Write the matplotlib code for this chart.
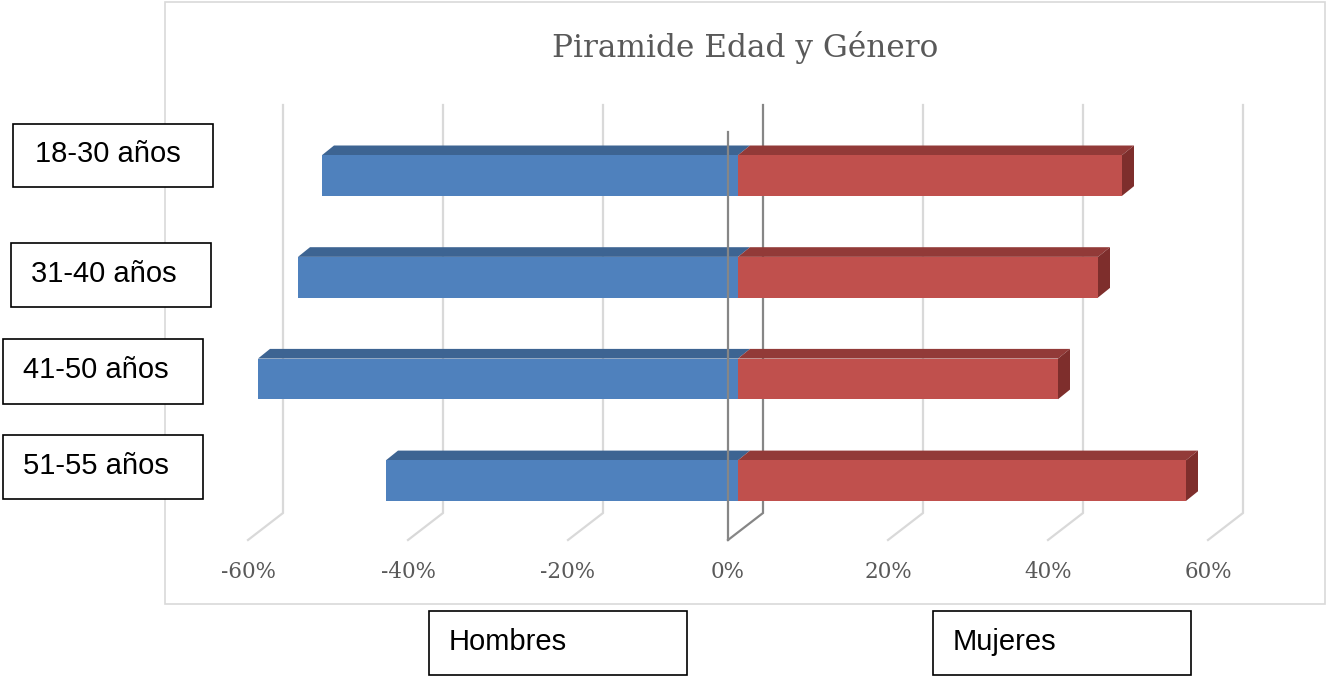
import matplotlib
matplotlib.use("Agg")
import matplotlib.pyplot as plt
from matplotlib.patches import Polygon, Rectangle

# Datos (porcentaje por grupo de edad)
grupos = ["18-30 años", "31-40 años", "41-50 años", "51-55 años"]
hombres = [52, 55, 60, 44]
mujeres = [48, 45, 40, 56]
ticks = [-60, -40, -20, 0, 20, 40, 60]
series = ["Hombres", "Mujeres"]
titulo = "Piramide Edad y Género"

W, H = 1326, 677
fig = plt.figure(figsize=(W / 100, H / 100), dpi=100)

# eje principal: x en %, y en filas (categorías)
X0_PX, PX_PER_PCT = 728, 8.0
Y0_PX, PX_PER_ROW = 175.5, 101.7
xlim = (-70, 70)
ylim = (4.2, -1.5)
ax_left = (X0_PX + xlim[0] * PX_PER_PCT) / W
ax_w = (xlim[1] - xlim[0]) * PX_PER_PCT / W
ax_top = Y0_PX + ylim[1] * PX_PER_ROW
ax_bot = Y0_PX + ylim[0] * PX_PER_ROW
ax = fig.add_axes([ax_left, 1 - ax_bot / H, ax_w, (ax_bot - ax_top) / H])
ax.set_xlim(*xlim)
ax.set_ylim(*ylim)
ax.axis("off")

# geometría 3D aproximada
DX, DY = 35 / PX_PER_PCT, -27 / PX_PER_ROW       # profundidad de la rejilla
front_bot = (540 - Y0_PX) / PX_PER_ROW
back_bot = front_bot + DY
back_top = (105 - Y0_PX) / PX_PER_ROW
front_top = back_top - DY
BX = 10 / PX_PER_PCT                              # cero de las barras
bdx, bdy = 1.5, -0.095                            # profundidad de las barras
hh = 0.2                                          # media altura de barra

grid_c = "#D9D9D9"
axis_c = "#868686"

for t in ticks:
    c = axis_c if t == 0 else grid_c
    ax.plot([t + DX, t + DX, t], [back_top, back_bot, front_bot], color=c, lw=1.6, zorder=1,
            solid_joinstyle="miter")
    ax.text(t, 3.90, f"{t}%", ha="center", va="center", fontsize=15.5,
            family="DejaVu Serif", color="#595959")

blue_f, blue_t = "#4F81BD", "#3D6492"
red_f, red_t, red_s = "#C0504D", "#923A38", "#7E2E2C"

for i, (h, m) in enumerate(zip(hombres, mujeres)):
    y0, y1 = i - hh, i + hh
    # hombres (izquierda)
    ax.add_patch(Polygon([(BX - h, y0), (BX - h + bdx, y0 + bdy), (BX + bdx, y0 + bdy), (BX, y0)],
                         closed=True, facecolor=blue_t, edgecolor="none", zorder=2))
    ax.add_patch(Rectangle((BX - h, y0), h, y1 - y0, facecolor=blue_f, edgecolor="none", zorder=3))
    # mujeres (derecha)
    ax.add_patch(Polygon([(BX, y0), (BX + bdx, y0 + bdy), (BX + m + bdx, y0 + bdy), (BX + m, y0)],
                         closed=True, facecolor=red_t, edgecolor="none", zorder=2))
    ax.add_patch(Polygon([(BX + m, y0), (BX + m + bdx, y0 + bdy), (BX + m + bdx, y1 + bdy), (BX + m, y1)],
                         closed=True, facecolor=red_s, edgecolor="none", zorder=2))
    ax.add_patch(Rectangle((BX, y0), m, y1 - y0, facecolor=red_f, edgecolor="none", zorder=3))

# eje vertical frontal en 0
ax.plot([0, 0], [front_top, front_bot], color=axis_c, lw=1.6, zorder=4)

# marco del gráfico
fig.patches.append(Rectangle((165 / W, 1 - 604 / H), (1325 - 165) / W, (604 - 2) / H,
                             transform=fig.transFigure, fill=False, edgecolor=grid_c, lw=1.2))

fig.text(745 / W, 1 - 47 / H, titulo, ha="center", va="center", fontsize=22.5,
         family="DejaVu Serif", color="#595959")

# cuadros de texto (izquierda: grupos, abajo: series)
cajas_grupos = [(13, 124, 200, 63), (11, 243, 200, 64), (3, 339, 200, 65), (3, 435, 200, 64)]
cajas_series = [(429, 611, 258, 64), (933, 611, 258, 64)]
pads = [22, 20, 20, 20]

def caja(x, y, w, h, texto, pad):
    fig.patches.append(Rectangle((x / W, 1 - (y + h) / H), w / W, h / H, transform=fig.transFigure,
                                 facecolor="white", edgecolor="black", lw=1.2, zorder=5))
    fig.text((x + pad) / W, 1 - (y + h / 2 - 1) / H, texto, ha="left", va="center",
             fontsize=21, family="Liberation Sans", color="black", zorder=6)

for (x, y, w, h), g, p in zip(cajas_grupos, grupos, pads):
    caja(x, y, w, h, g, p)
for (x, y, w, h), s in zip(cajas_series, series):
    caja(x, y, w, h, s, 20)

fig.savefig("out.png", dpi=100)
